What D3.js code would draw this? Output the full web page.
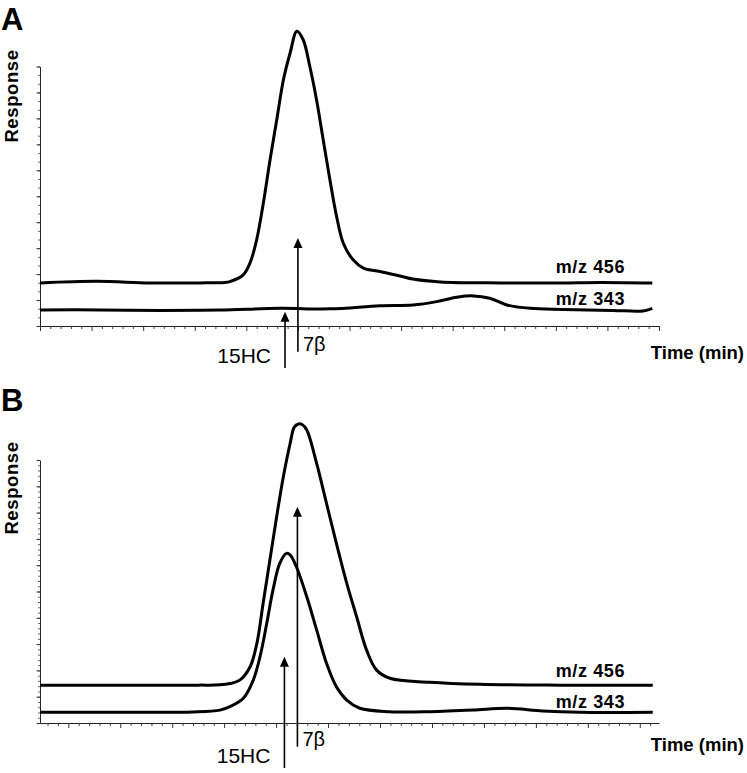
<!DOCTYPE html>
<html><head><meta charset="utf-8">
<script src="https://cdn.jsdelivr.net/npm/d3@7"></script>
<style>
body{margin:0;background:#fff;}
text{font-family:"Liberation Sans",Arial,sans-serif;fill:#000;}
</style></head>
<body>
<svg id="chart" width="747" height="773"></svg>
<script>
// ---------- DATA ----------
// Panel A (time in axis units, response in axis units)
const timeA456 = [0,1.1,2.13,3.1,3.59,3.68,3.94,4.07,4.2,4.33,4.46,4.59,4.72,4.85,4.98,5.1,5.23,5.36,5.49,5.62,5.75,5.88,6.07,6.27,6.59,6.98,7.23,7.76,8.92,10.08,10.86,11.87];
const respA456 = [1.66,1.72,1.66,1.66,1.68,1.71,1.97,2.42,3.32,4.74,6.41,7.95,9.5,10.53,11.36,11.04,10.01,8.73,7.18,5.64,4.22,3.19,2.55,2.23,2.1,1.93,1.81,1.7,1.66,1.66,1.68,1.66];
const timeA343 = [0,1.16,2.33,3.49,4.65,5.62,6.59,7.23,7.69,8.08,8.4,8.72,9.05,9.5,10.15,11.11,11.69,11.87];
const respA343 = [0.62,0.62,0.6,0.62,0.68,0.66,0.78,0.81,0.94,1.11,1.16,1.07,0.81,0.68,0.64,0.6,0.58,0.68];
// Panel B
const timeB456 = [-0.545,1.0,2.5,2.92,3.11,3.3,3.5,3.63,3.75,3.88,4.01,4.14,4.27,4.35,4.43,4.5,4.59,4.78,4.97,5.16,5.36,5.55,5.74,5.93,6.19,6.96,7.92,9.46,11.25];
const respB456 = [1.44,1.44,1.44,1.45,1.5,1.63,2.14,3.03,4.55,6.2,7.84,9.37,10.63,11.25,11.37,11.35,11.14,9.87,8.35,6.83,5.31,4.04,2.78,2.02,1.7,1.55,1.47,1.44,1.44];
const timeB343 = [-0.545,1.0,2.4,2.92,3.11,3.37,3.56,3.69,3.82,3.94,4.07,4.2,4.27,4.39,4.59,4.78,4.97,5.16,5.36,5.61,6.19,6.96,7.79,8.44,9.13,9.85,11.25];
const respB343 = [0.41,0.41,0.42,0.49,0.62,0.94,1.63,2.52,3.79,5.06,6.07,6.45,6.39,5.94,4.8,3.54,2.27,1.38,0.87,0.56,0.43,0.43,0.49,0.56,0.46,0.41,0.41];

const seriesLabels = ["m/z 456","m/z 343"];
const panelLabels = ["A","B"];
const compoundLabels = ["15HC","7\u03b2"];
// arrow markers: [time, bottom response, tip response]
const arrowsA = [[4.75,-1.62,0.55],[5.0,-0.99,3.39]];
const arrowsB = [[4.16,-1.71,2.52],[4.41,-0.90,8.22]];
const xDomainA = [0,12], xDomainB = [-0.545,11.37];
const yDomain = [0,10];
const xTicksMajor = d3.range(0,13,1);
const xTicksMinor = d3.range(-0.4,12.01,0.2).map(v=>+v.toFixed(2));

// ---------- DRAW ----------
const svg = d3.select("#chart");
const zip = (t,r)=>t.map((d,i)=>[d,r[i]]);

function panel(cfg){
  const g = svg.append("g");
  const x = d3.scaleLinear().domain(cfg.xDomain).range([40,659]);
  const y = d3.scaleLinear().domain(yDomain).range([cfg.bottom,cfg.top]);

  const minors = xTicksMinor.filter(v=>v>=cfg.xDomain[0]&&v<=cfg.xDomain[1]&&Math.abs(v-Math.round(v))>1e-6);
  g.append("g").attr("transform",`translate(0,${cfg.bottom})`)
    .call(d3.axisBottom(x).tickValues(minors).tickSize(3).tickSizeOuter(0).tickFormat(""))
    .call(a=>a.selectAll("line").attr("stroke","#444"))
    .call(a=>a.select(".domain").attr("stroke","#222"));
  g.append("g").attr("transform",`translate(0,${cfg.bottom})`)
    .call(d3.axisBottom(x).tickValues(xTicksMajor.filter(v=>v>=cfg.xDomain[0]&&v<=cfg.xDomain[1])).tickSize(5).tickSizeOuter(0).tickFormat(""))
    .call(a=>a.selectAll("line").attr("stroke","#333"))
    .call(a=>a.select(".domain").remove());
  g.append("g").attr("transform","translate(40,0)")
    .call(d3.axisLeft(y).tickValues(d3.range(0,10.001,cfg.yMinor)).tickSize(2).tickSizeOuter(0).tickFormat(""))
    .call(a=>a.selectAll("line").attr("stroke","#666"))
    .call(a=>a.select(".domain").attr("stroke","#222"));
  g.append("g").attr("transform","translate(40,0)")
    .call(d3.axisLeft(y).tickValues(d3.range(0,10.001,1)).tickSize(3.5).tickSizeOuter(0).tickFormat(""))
    .call(a=>a.selectAll("line").attr("stroke","#333"))
    .call(a=>a.select(".domain").remove());

  const line = d3.line().x(d=>x(d[0])).y(d=>y(d[1])).curve(d3.curveCatmullRom.alpha(0.5));
  cfg.series.forEach(s=>{
    g.append("path").attr("d",line(s)).attr("fill","none").attr("stroke","#000")
      .attr("stroke-width",3).attr("stroke-linejoin","round");
  });

  cfg.arrows.forEach(a=>{
    const ax = x(a[0]), yb = y(a[1]), yt = y(a[2]);
    g.append("line").attr("x1",ax).attr("x2",ax).attr("y1",yb).attr("y2",yt+8)
      .attr("stroke","#000").attr("stroke-width",1.6);
    g.append("path").attr("d",`M${ax},${yt}L${ax-4.5},${yt+10}L${ax+4.5},${yt+10}Z`).attr("fill","#000");
  });
  const a0 = cfg.arrows[0], a1 = cfg.arrows[1];
  g.append("text").attr("x",x(a0[0])-14).attr("y",y(a0[1])-5).attr("text-anchor","end")
    .attr("font-size",21).text(compoundLabels[0]);
  g.append("text").attr("x",x(a1[0])+5).attr("y",y(a1[1])-0.5)
    .attr("font-size",20).text(compoundLabels[1]);

  cfg.labelY.forEach((v,i)=>{
    g.append("text").attr("x",625).attr("y",y(v)).attr("text-anchor","end")
      .attr("font-size",18).attr("font-weight","bold").attr("letter-spacing",0.6).text(seriesLabels[i]);
  });
  g.append("text").attr("x",744).attr("y",cfg.bottom+cfg.timeDy).attr("text-anchor","end")
    .attr("font-size",18.5).attr("font-weight","bold").text("Time (min)");
  g.append("text").attr("transform",`translate(17.5,${cfg.respY}) rotate(-90)`).attr("text-anchor","middle")
    .attr("font-size",18.5).attr("font-weight","bold").attr("letter-spacing",0.6).text("Response");
  g.append("text").attr("x",1).attr("y",cfg.letterY).attr("font-size",31).attr("font-weight","bold").text(cfg.letter);
}

panel({xDomain:xDomainA, top:66.5, bottom:326, yMinor:1/3,
  series:[zip(timeA456,respA456), zip(timeA343,respA343)],
  arrows:arrowsA, labelY:[2.04,0.81], timeDy:32.5, respY:96, letterY:30, letter:panelLabels[0]});
panel({xDomain:xDomainB, top:460, bottom:723, yMinor:0.2,
  series:[zip(timeB456,respB456), zip(timeB343,respB343)],
  arrows:arrowsB, labelY:[1.75,0.56], timeDy:28, respY:488, letterY:410.5, letter:panelLabels[1]});
</script>
</body></html>
